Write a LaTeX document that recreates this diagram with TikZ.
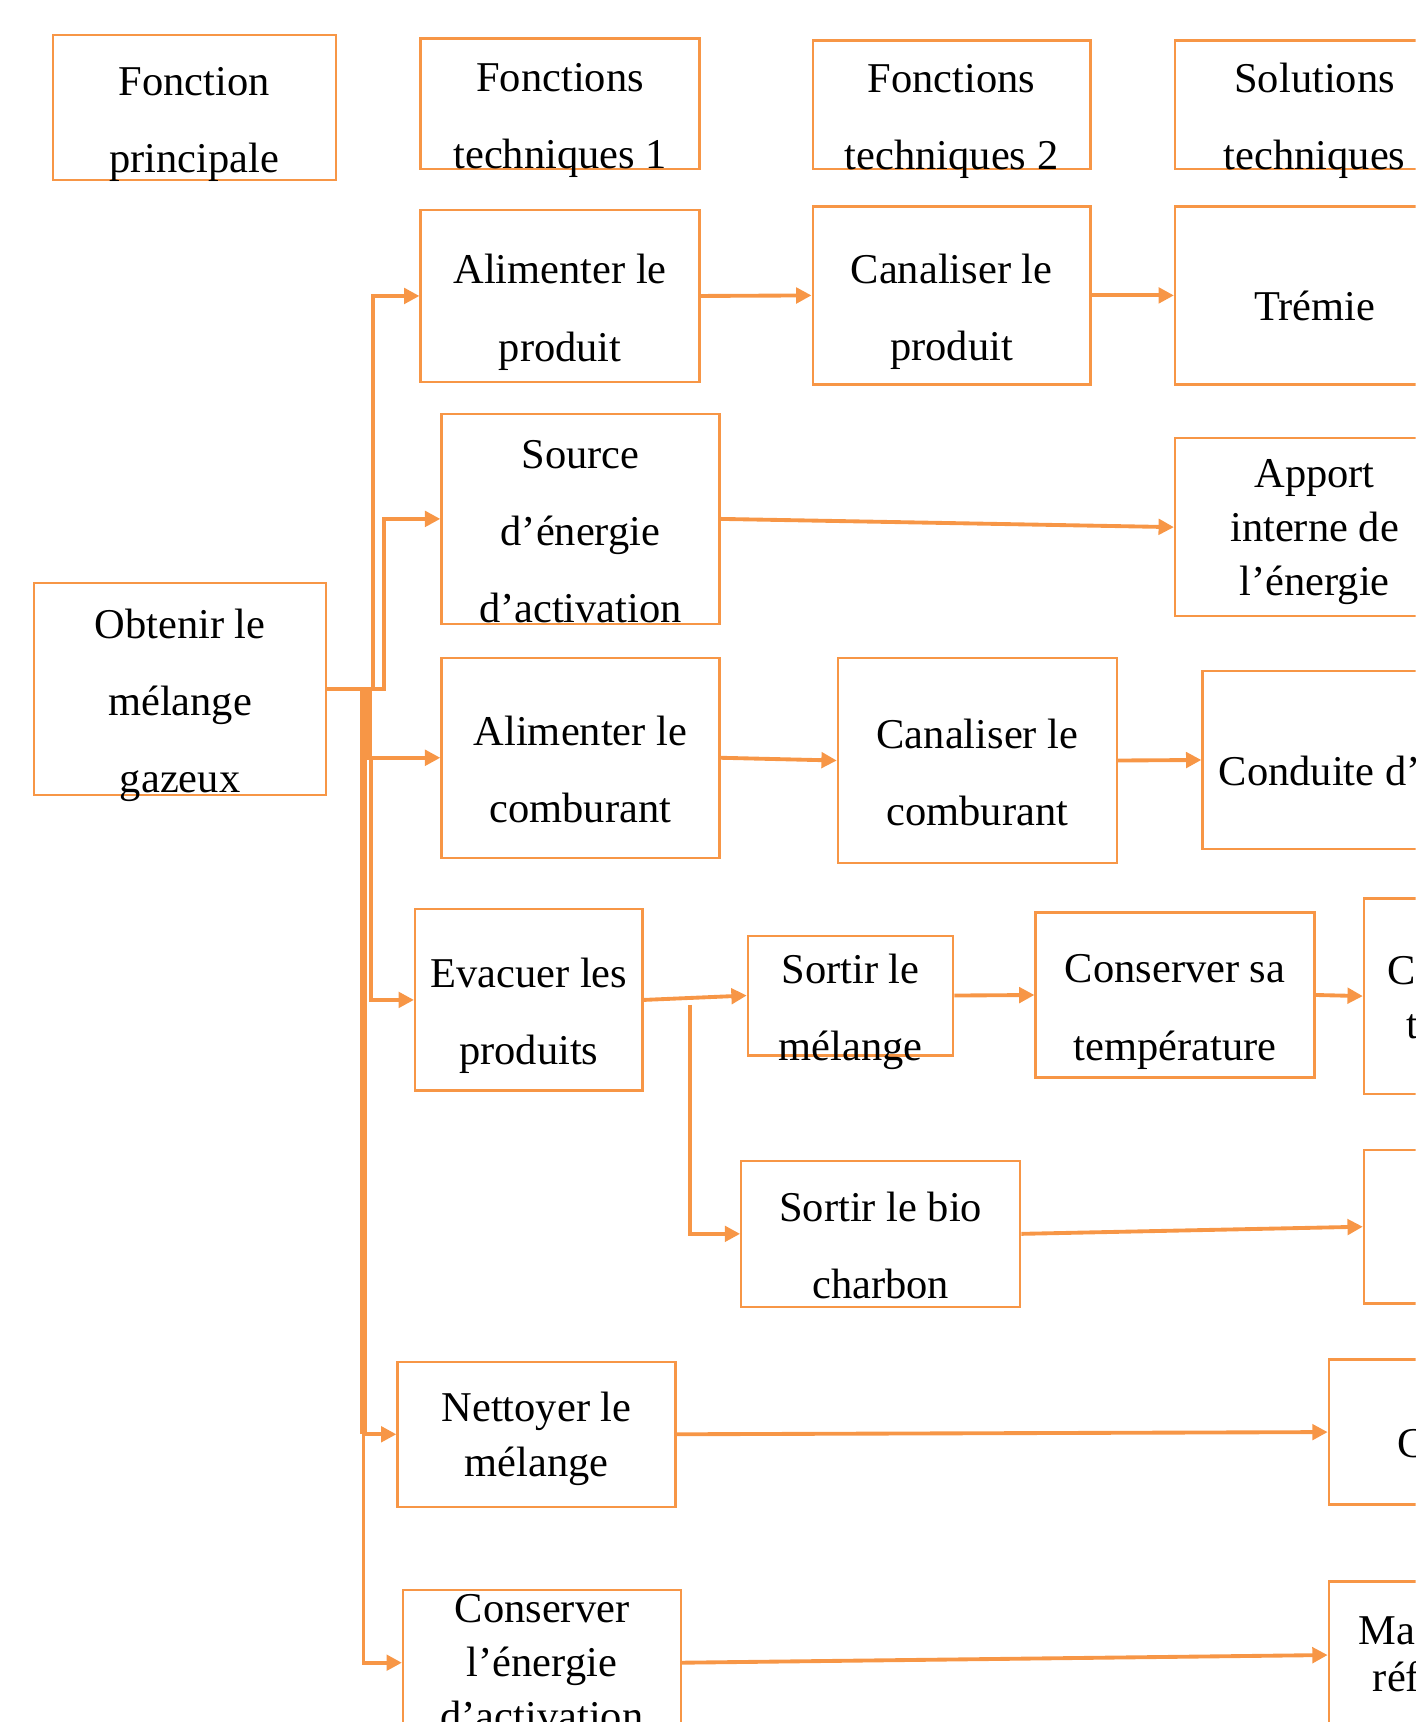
\documentclass[tikz,border=0pt]{standalone}
\usepackage{fontspec}
\setmainfont{Liberation Serif}
\usetikzlibrary{arrows.meta}
\definecolor{orn}{HTML}{F79646}

\begin{document}
\begin{tikzpicture}[>={Triangle[length=1.4mm, width=1.4mm]},
  bx/.style={draw=orn, line width=0.6pt, align=center, inner xsep=0pt, inner ysep=-5mm},
  b/.style={bx, font=\fontsize{11}{20}\selectfont, text height=33.7pt, text depth=0pt},
  b3/.style={b, text height=53.7pt},
  b1/.style={bx, font=\fontsize{11}{20}\selectfont, text height=16pt, text depth=3pt},
  bt/.style={bx, font=\fontsize{11}{14}\selectfont, text depth=0pt},
  arr/.style={->, draw=orn, line width=1pt}]
\useasboundingbox (0,0) rectangle (12.89,-15.68);
\clip (0,0) rectangle (12.89,-15.68);

% column headings
\node[b, minimum width=2.58cm, minimum height=1.32cm] (hP) at (1.77,-0.98) {Fonction\\principale};
\node[b, minimum width=2.54cm, minimum height=1.19cm] (hT1) at (5.10,-0.945) {Fonctions\\techniques 1};
\node[b, minimum width=2.53cm, minimum height=1.17cm] (hT2) at (8.665,-0.955) {Fonctions\\techniques 2};
\node[b, minimum width=2.54cm, minimum height=1.17cm] (hS) at (11.97,-0.955) {Solutions\\techniques};

% main function and its branches
\node[b3, minimum width=2.66cm, minimum height=1.93cm] (fp) at (1.64,-6.275) {Obtenir le\\mélange\\gazeux};
\node[b, minimum width=2.54cm, minimum height=1.57cm] (fA1) at (5.10,-2.695) {Alimenter le\\produit};
\node[b, minimum width=2.53cm, minimum height=1.62cm] (fC1) at (8.665,-2.69) {Canaliser le\\produit};
\node[b1, minimum width=2.54cm, minimum height=1.62cm] (sTr) at (11.97,-2.69) {Trémie};
\node[b3, minimum width=2.53cm, minimum height=1.91cm] (fSrc) at (5.285,-4.725) {Source\\d’énergie\\d’activation};
\node[bt, minimum width=2.54cm, minimum height=1.62cm] (sApp) at (11.97,-4.80) {Apport\\interne de\\l’énergie};
\node[b, minimum width=2.53cm, minimum height=1.82cm] (fA3) at (5.285,-6.90) {Alimenter le\\comburant};
\node[b, minimum width=2.54cm, minimum height=1.87cm] (fC3) at (8.90,-6.925) {Canaliser le\\comburant};
\node[b1, minimum width=2.54cm, minimum height=1.62cm] (sCond) at (12.22,-6.92) {Conduite d’air};
\node[b, minimum width=2.07cm, minimum height=1.65cm] (fEv) at (4.815,-9.105) {Evacuer les\\produits};
\node[b, minimum width=1.87cm, minimum height=1.09cm] (fSm) at (7.745,-9.065) {Sortir le\\mélange};
\node[b, minimum width=2.54cm, minimum height=1.50cm] (fCs) at (10.70,-9.06) {Conserver sa\\température};
\node[bt, minimum width=2.62cm, minimum height=1.78cm] (sCal) at (13.73,-9.07) {Calorifugeage\\température};
\node[b, minimum width=2.54cm, minimum height=1.33cm] (fSb) at (8.02,-11.235) {Sortir le bio\\charbon};
\node[b1, minimum width=2.54cm, minimum height=1.40cm] (sBio) at (13.69,-11.17) {Cendrier};
\node[bt, minimum width=2.53cm, minimum height=1.32cm] (fNet) at (4.885,-13.06) {Nettoyer le\\mélange};
\node[b1, minimum width=2.54cm, minimum height=1.32cm] (sCyc) at (13.37,-13.04) {Cyclone};
\node[bt, minimum width=2.53cm, minimum height=1.32cm] (fCons) at (4.935,-15.14) {Conserver\\l’énergie\\d’activation};
\node[bt, font=\fontsize{11}{12.3}\selectfont, text depth=0.5pt, minimum width=2.54cm, minimum height=1.34cm] (sMat) at (13.37,-15.07) {Maçonneries\\réfractaires};

% trunk points
\coordinate (tA) at (3.40,-6.275);
\coordinate (tB) at (3.50,-6.275);
\coordinate (tC) at (3.335,-6.275);
\coordinate (tD) at (3.335,-6.90);
\coordinate (tE) at (3.375,-6.90);
\coordinate (tF) at (3.31,-6.275);
\coordinate (tG) at (3.31,-13.06);
\coordinate (br) at (6.28,-9.15);

\draw[arr] (fp.east) -- (tA) |- (fA1.west);
\draw[arr] (fp.east) -- (tB) |- (fSrc.west);
\draw[orn, line width=2.8pt] (tC) -- (tD);
\draw[orn, line width=1.7pt] (tF) -- (tG);
\draw[arr] (tD) -- (fA3.west);
\draw[arr] (tE) |- (fEv.west);
\draw[arr] (tG) -- (fNet.west);
\draw[arr] (tG) |- (fCons.west);

\draw[arr] (fA1.east) -- (fC1.west);
\draw[arr] (fC1.east) -- (sTr.west);
\draw[arr] (fSrc.east) -- (sApp.west);
\draw[arr] (fA3.east) -- (fC3.west);
\draw[arr] (fC3.east) -- (sCond.west);
\draw[arr] (fEv.east) -- (fSm.west);
\draw[arr] (fSm.east) -- (fCs.west);
\draw[arr] (fCs.east) -- (sCal.west);
\draw[arr] (br) |- (fSb.west);
\draw[arr] (fSb.east) -- (sBio.west);
\draw[arr] (fNet.east) -- (sCyc.west);
\draw[arr] (fCons.east) -- (sMat.west);
\end{tikzpicture}
\end{document}
